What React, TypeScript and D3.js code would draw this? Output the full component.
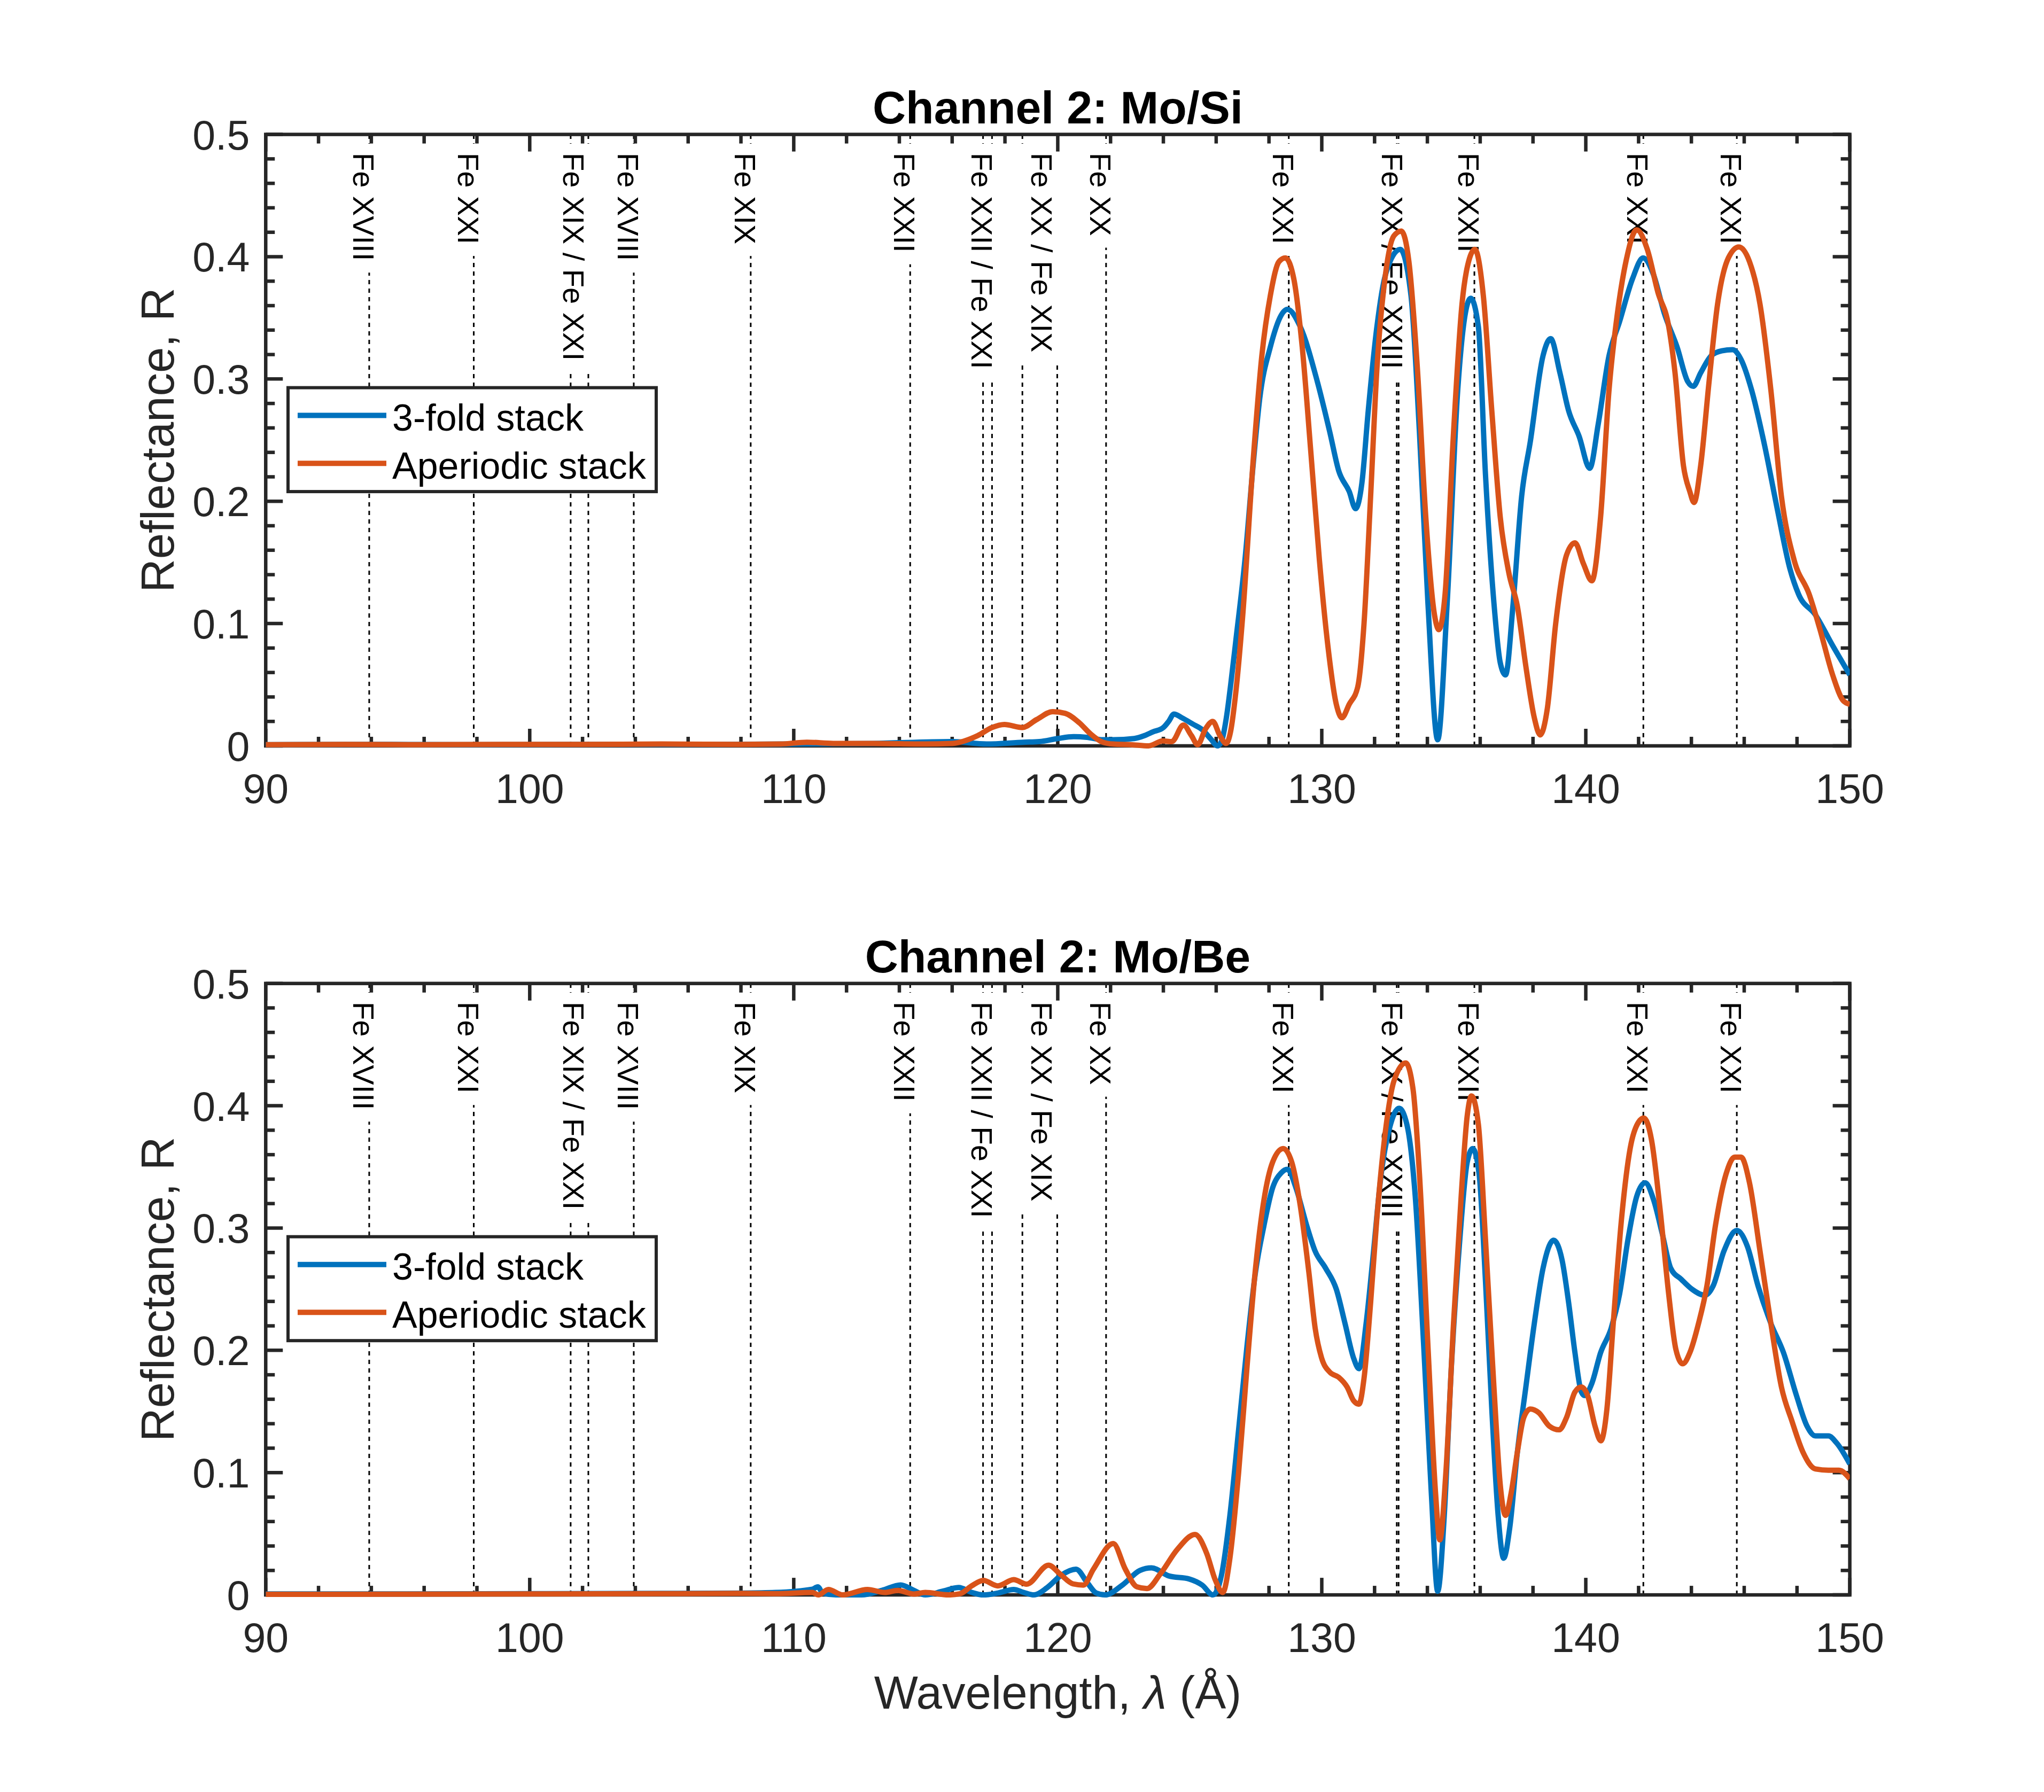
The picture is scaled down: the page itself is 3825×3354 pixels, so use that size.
import React, { useRef, useEffect } from 'react';
import * as d3 from 'd3';

type Pt = [number, number];

const xTicks = [90, 100, 110, 120, 130, 140, 150];
const yTicks = [0, 0.1, 0.2, 0.3, 0.4, 0.5];
const seriesNames = ['3-fold stack', 'Aperiodic stack'];
const seriesColors = ['#0072BD', '#D95319'];
const panelTitles = ['Channel 2: Mo/Si', 'Channel 2: Mo/Be'];

// emission lines (dotted markers) and their labels
const lineLabels = [
  'Fe XVIII', 'Fe XXI', 'Fe XIX / Fe XXI', 'Fe XVIII', 'Fe XIX', 'Fe XXII',
  'Fe XXII / Fe XXI', 'Fe XX / Fe XIX', 'Fe XX', 'Fe XXI', 'Fe XX / Fe XXIII',
  'Fe XXII', 'Fe XXI', 'Fe XXI',
];
const lineWavelengths: number[][] = [
  [93.92], [97.88], [101.55, 102.22], [103.94], [108.37], [114.41],
  [117.17, 117.51], [118.66, 119.98], [121.83], [128.75], [132.84, 132.91],
  [135.78], [142.18], [145.72],
];
const labelWavelengths = [
  93.92, 97.88, 101.885, 103.94, 108.37, 114.41, 117.34, 119.6, 121.83,
  128.75, 132.88, 135.78, 142.18, 145.72,
];

// Mo/Si
const moSiThreeFold: Pt[] = [
  [90, 0.001], [94, 0.0012], [98, 0.001], [102, 0.0012], [106, 0.0012], [110, 0.0015],
  [113, 0.002], [116, 0.0035], [117.3, 0.0015], [118.7, 0.003], [119.3, 0.0035],
  [120.0, 0.006], [120.6, 0.0075], [121.1, 0.007], [121.7, 0.005], [122.1, 0.005],
  [122.9, 0.006], [123.3, 0.0085], [123.6, 0.0114], [124.0, 0.015], [124.2, 0.02],
  [124.4, 0.026], [124.7, 0.023], [125.1, 0.018], [125.5, 0.0128], [125.8, 0.0055],
  [126.05, 0.0], [126.2, 0.0036], [126.4, 0.025], [126.55, 0.05], [126.75, 0.087],
  [127.09, 0.152], [127.41, 0.232], [127.65, 0.284], [128.05, 0.326], [128.7, 0.357],
  [129.18, 0.343], [129.83, 0.298], [130.31, 0.256], [130.64, 0.225], [131.04, 0.208],
  [131.28, 0.194], [131.52, 0.215], [131.76, 0.274], [132.09, 0.343], [132.41, 0.385],
  [132.97, 0.406], [133.38, 0.368], [133.7, 0.256], [134.02, 0.117], [134.39, 0.005],
  [134.75, 0.117], [135.15, 0.291], [135.44, 0.354], [135.64, 0.366], [135.93, 0.343],
  [136.2, 0.222], [136.52, 0.117], [136.76, 0.068], [136.96, 0.058], [137.25, 0.117],
  [137.57, 0.204], [137.9, 0.249], [138.38, 0.319], [138.67, 0.333], [139.02, 0.305],
  [139.35, 0.274], [139.75, 0.253], [140.15, 0.227], [140.47, 0.263], [140.88, 0.319],
  [141.28, 0.347], [141.77, 0.382], [142.17, 0.399], [142.57, 0.385], [142.97, 0.354],
  [143.46, 0.326], [143.86, 0.298], [144.07, 0.294], [144.35, 0.305], [144.75, 0.319],
  [145.15, 0.323], [145.56, 0.324], [145.88, 0.316], [146.28, 0.291], [146.77, 0.246],
  [147.25, 0.194], [147.73, 0.145], [148.06, 0.124], [148.7, 0.107], [149.35, 0.082],
  [150, 0.058],
];
const moSiAperiodic: Pt[] = [
  [90, 0.001], [93, 0.0012], [96, 0.001], [99, 0.0012], [102, 0.0012], [105, 0.0015],
  [108, 0.0012], [109.5, 0.0015], [110.5, 0.003], [111.5, 0.002], [113, 0.002],
  [115, 0.0015], [116, 0.002], [116.97, 0.0084], [117.51, 0.015], [117.98, 0.0175],
  [118.66, 0.015], [119.2, 0.0215], [119.81, 0.028], [120.28, 0.0266], [120.82, 0.0188],
  [121.23, 0.01], [121.7, 0.003], [122.1, 0.0015], [122.77, 0.001], [123.44, 0.0],
  [123.98, 0.004], [124.32, 0.0035], [124.76, 0.017], [125.06, 0.0085], [125.3, 0.001],
  [125.6, 0.014], [125.87, 0.02], [126.14, 0.0085], [126.38, 0.002], [126.54, 0.011],
  [126.75, 0.045], [127.0, 0.105], [127.41, 0.236], [127.73, 0.319], [128.05, 0.368],
  [128.38, 0.396], [128.62, 0.399], [128.94, 0.382], [129.26, 0.326], [129.59, 0.239],
  [129.91, 0.152], [130.23, 0.082], [130.55, 0.034], [130.76, 0.023], [131.04, 0.034],
  [131.36, 0.048], [131.6, 0.1], [131.85, 0.204], [132.09, 0.309], [132.41, 0.385],
  [132.73, 0.417], [133.01, 0.421], [133.3, 0.396], [133.62, 0.309], [133.94, 0.187],
  [134.27, 0.107], [134.43, 0.095], [134.67, 0.124], [134.99, 0.256], [135.31, 0.361],
  [135.6, 0.399], [135.8, 0.406], [136.12, 0.368], [136.44, 0.274], [136.76, 0.187],
  [137.09, 0.141], [137.41, 0.114], [137.73, 0.065], [138.05, 0.023], [138.27, 0.009],
  [138.54, 0.03], [138.86, 0.1], [139.27, 0.156], [139.59, 0.166], [139.91, 0.149],
  [140.23, 0.135], [140.56, 0.187], [140.88, 0.291], [141.2, 0.354], [141.52, 0.396],
  [141.93, 0.422], [142.33, 0.406], [142.73, 0.371], [143.14, 0.343], [143.38, 0.305],
  [143.7, 0.229], [143.94, 0.208], [144.1, 0.199], [144.35, 0.229], [144.67, 0.298],
  [144.99, 0.361], [145.4, 0.399], [145.8, 0.408], [146.2, 0.396], [146.6, 0.361],
  [147.01, 0.291], [147.41, 0.204], [147.89, 0.152], [148.46, 0.124], [148.86, 0.096],
  [149.35, 0.058], [149.75, 0.037], [150, 0.034],
];

// Mo/Be
const moBeThreeFold: Pt[] = [
  [90, 0.0008], [95, 0.0008], [100, 0.001], [105, 0.0012], [108, 0.0015], [109.3, 0.002],
  [110.71, 0.0047], [110.91, 0.0066], [111.1, 0.0015], [111.6, 0.0], [112.57, 0.0],
  [113.34, 0.0037], [114.05, 0.0081], [114.55, 0.0037], [114.98, 0.0], [115.64, 0.003],
  [116.25, 0.006], [116.74, 0.002], [117.18, 0.0], [117.73, 0.0015], [118.33, 0.0044],
  [118.71, 0.002], [119.1, 0.0], [119.6, 0.006], [120.14, 0.0162], [120.69, 0.021],
  [121.13, 0.0096], [121.46, 0.0015], [121.79, 0.0], [122.45, 0.0081], [123.11, 0.02],
  [123.55, 0.0221], [124.21, 0.0155], [124.98, 0.013], [125.47, 0.008], [125.88, 0.0],
  [126.2, 0.016], [126.52, 0.065], [126.85, 0.135], [127.17, 0.204], [127.49, 0.264],
  [127.81, 0.302], [128.14, 0.333], [128.46, 0.345], [128.7, 0.348], [129.02, 0.333],
  [129.43, 0.302], [129.75, 0.281], [130.15, 0.267], [130.55, 0.25], [130.88, 0.222],
  [131.2, 0.194], [131.41, 0.185], [131.68, 0.222], [131.93, 0.274], [132.25, 0.344],
  [132.57, 0.382], [132.93, 0.398], [133.22, 0.385], [133.54, 0.326], [133.86, 0.204],
  [134.15, 0.083], [134.39, 0.003], [134.64, 0.065], [134.91, 0.187], [135.23, 0.291],
  [135.51, 0.354], [135.72, 0.365], [135.96, 0.344], [136.2, 0.257], [136.44, 0.152],
  [136.68, 0.065], [136.89, 0.03], [137.12, 0.055], [137.41, 0.117], [137.73, 0.17],
  [138.05, 0.222], [138.38, 0.267], [138.78, 0.29], [139.1, 0.274], [139.35, 0.239],
  [139.59, 0.198], [139.83, 0.166], [139.96, 0.163], [140.23, 0.173], [140.56, 0.198],
  [140.96, 0.218], [141.28, 0.246], [141.6, 0.291], [141.93, 0.326], [142.25, 0.337],
  [142.57, 0.323], [142.9, 0.295], [143.22, 0.267], [143.62, 0.258], [144.02, 0.25],
  [144.51, 0.245], [144.83, 0.253], [145.23, 0.281], [145.72, 0.298], [146.12, 0.285],
  [146.52, 0.253], [147.01, 0.222], [147.49, 0.198], [147.98, 0.163], [148.38, 0.138],
  [148.7, 0.13], [149.19, 0.13], [149.51, 0.124], [150, 0.107],
];
const moBeAperiodic: Pt[] = [
  [90, 0.0005], [95, 0.0006], [100, 0.0008], [105, 0.001], [108, 0.0012], [109.3, 0.001],
  [110.71, 0.002], [110.93, 0.0], [111.31, 0.0044], [111.86, 0.0], [112.79, 0.0044],
  [113.45, 0.002], [113.94, 0.0037], [114.55, 0.0007], [114.98, 0.002], [115.86, 0.0],
  [116.3, 0.001], [116.74, 0.0074], [117.18, 0.0118], [117.73, 0.0074], [118.33, 0.0125],
  [118.82, 0.0088], [119.65, 0.0243], [120.09, 0.017], [120.58, 0.009], [120.97, 0.008],
  [121.35, 0.021], [122.1, 0.042], [122.56, 0.021], [123.0, 0.0066], [123.38, 0.0052],
  [123.88, 0.017], [124.54, 0.0375], [125.2, 0.0494], [125.64, 0.034], [125.97, 0.012],
  [126.25, 0.002], [126.52, 0.03], [126.85, 0.1], [127.17, 0.187], [127.49, 0.267],
  [127.81, 0.323], [128.14, 0.354], [128.54, 0.365], [128.86, 0.354], [129.18, 0.319],
  [129.51, 0.264], [129.75, 0.218], [129.99, 0.194], [130.31, 0.182], [130.64, 0.178],
  [130.96, 0.17], [131.2, 0.159], [131.41, 0.156], [131.6, 0.177], [131.85, 0.239],
  [132.09, 0.309], [132.41, 0.379], [132.73, 0.42], [133.18, 0.435], [133.46, 0.413],
  [133.7, 0.344], [134.02, 0.204], [134.31, 0.083], [134.47, 0.045], [134.7, 0.1],
  [134.99, 0.222], [135.28, 0.326], [135.51, 0.392], [135.67, 0.408], [135.93, 0.385],
  [136.2, 0.291], [136.52, 0.17], [136.76, 0.09], [136.96, 0.065], [137.17, 0.083],
  [137.41, 0.117], [137.65, 0.145], [137.9, 0.152], [138.22, 0.149], [138.62, 0.138],
  [138.99, 0.135], [139.27, 0.145], [139.59, 0.166], [139.83, 0.17], [140.07, 0.163],
  [140.35, 0.138], [140.57, 0.126], [140.8, 0.152], [141.04, 0.222], [141.36, 0.309],
  [141.68, 0.365], [142.01, 0.387], [142.2, 0.39], [142.49, 0.372], [142.81, 0.316],
  [143.14, 0.246], [143.41, 0.201], [143.67, 0.189], [143.94, 0.198], [144.27, 0.222],
  [144.59, 0.253], [144.91, 0.302], [145.31, 0.344], [145.64, 0.358], [145.88, 0.358],
  [146.2, 0.337], [146.6, 0.281], [147.01, 0.222], [147.41, 0.17], [147.81, 0.142],
  [148.22, 0.117], [148.7, 0.103], [149.19, 0.102], [149.59, 0.102], [150, 0.095],
];

const panelSeries: Pt[][][] = [
  [moSiThreeFold, moSiAperiodic],
  [moBeThreeFold, moBeAperiodic],
];

const W = 3825;
const H = 3354;
const plotLeft = 497.25;
const plotRight = 3461.6;
const plotHeight = 1144.4;
const panelTops = [251.6, 1840.7];
const FONT = '"Liberation Sans", Arial, Helvetica, sans-serif';
const AXIS_COLOR = '#262626';

const App: React.FC = () => {
  const svgRef = useRef<SVGSVGElement | null>(null);

  useEffect(() => {
    document.body.style.margin = '0';
    const svg = d3.select(svgRef.current);
    svg.selectAll('*').remove();
    svg.append('rect').attr('width', W).attr('height', H).attr('fill', '#fff');

    panelTops.forEach((top, p) => {
      const bottom = top + plotHeight;
      const x = d3.scaleLinear().domain([90, 150]).range([plotLeft, plotRight]);
      const y = d3.scaleLinear().domain([0, 0.5]).range([bottom, top]);
      const g = svg.append('g');

      // dotted line markers
      lineWavelengths.forEach(ws => ws.forEach(w => {
        g.append('line')
          .attr('x1', x(w)).attr('x2', x(w))
          .attr('y1', y(0)).attr('y2', y(0.5))
          .attr('stroke', '#000')
          .attr('stroke-width', 3)
          .attr('stroke-dasharray', '8 8');
      }));

      // labels with white background
      lineLabels.forEach((lab, i) => {
        const lg = g.append('g')
          .attr('transform', `translate(${x(labelWavelengths[i])},${y(0.485)}) rotate(90)`);
        const bg = lg.append('rect').attr('fill', '#fff');
        const t = lg.append('text')
          .attr('x', 0).attr('y', 30)
          .attr('font-family', FONT)
          .attr('font-size', 56)
          .attr('fill', '#000')
          .text(lab);
        const len = (t.node() as SVGTextElement).getComputedTextLength();
        bg.attr('x', -17).attr('y', -22).attr('width', len + 17 + 22).attr('height', 72);
      });

      // curves
      const clipId = `clip-${p}`;
      svg.append('clipPath').attr('id', clipId)
        .append('rect')
        .attr('x', plotLeft).attr('y', top - 12)
        .attr('width', plotRight - plotLeft).attr('height', plotHeight + 24);

      const line = d3.line<Pt>()
        .x(d => x(d[0]))
        .y(d => y(d[1]))
        .curve(d3.curveMonotoneX);

      // axes box and ticks
      const ax = g.append('g');
      ax.append('rect')
        .attr('x', plotLeft).attr('y', top)
        .attr('width', plotRight - plotLeft).attr('height', plotHeight)
        .attr('fill', 'none')
        .attr('stroke', AXIS_COLOR)
        .attr('stroke-width', 6.5);
      for (let i = 0; i <= 30; i++) {
        const v = 90 + 2 * i;
        const len = i % 5 === 0 ? 32 : 17;
        ax.append('line').attr('x1', x(v)).attr('x2', x(v)).attr('y1', bottom).attr('y2', bottom - len)
          .attr('stroke', AXIS_COLOR).attr('stroke-width', 6.5);
        ax.append('line').attr('x1', x(v)).attr('x2', x(v)).attr('y1', top).attr('y2', top + len)
          .attr('stroke', AXIS_COLOR).attr('stroke-width', 6.5);
      }
      for (let i = 0; i <= 25; i++) {
        const v = 0.02 * i;
        const len = i % 5 === 0 ? 32 : 17;
        ax.append('line').attr('x1', plotLeft).attr('x2', plotLeft + len).attr('y1', y(v)).attr('y2', y(v))
          .attr('stroke', AXIS_COLOR).attr('stroke-width', 6.5);
        ax.append('line').attr('x1', plotRight).attr('x2', plotRight - len).attr('y1', y(v)).attr('y2', y(v))
          .attr('stroke', AXIS_COLOR).attr('stroke-width', 6.5);
      }

      panelSeries[p].forEach((data, s) => {
        g.append('path')
          .datum(data)
          .attr('clip-path', `url(#${clipId})`)
          .attr('d', line)
          .attr('fill', 'none')
          .attr('stroke', seriesColors[s])
          .attr('stroke-width', 10)
          .attr('stroke-linejoin', 'round');
      });

      // tick labels
      xTicks.forEach(v => {
        g.append('text')
          .attr('x', x(v)).attr('y', bottom + 107)
          .attr('text-anchor', 'middle')
          .attr('font-family', FONT).attr('font-size', 77)
          .attr('fill', AXIS_COLOR)
          .text(String(v));
      });
      yTicks.forEach(v => {
        g.append('text')
          .attr('x', plotLeft - 30).attr('y', y(v) + 28)
          .attr('text-anchor', 'end')
          .attr('font-family', FONT).attr('font-size', 77)
          .attr('fill', AXIS_COLOR)
          .text(v === 0 ? '0' : v.toFixed(1));
      });

      // title
      g.append('text')
        .attr('x', (plotLeft + plotRight) / 2).attr('y', top - 21)
        .attr('text-anchor', 'middle')
        .attr('font-family', FONT).attr('font-size', 86).attr('font-weight', 'bold')
        .attr('fill', '#000')
        .text(panelTitles[p]);

      // y label
      g.append('text')
        .attr('transform', `translate(325,${top + plotHeight / 2}) rotate(-90)`)
        .attr('text-anchor', 'middle')
        .attr('font-family', FONT).attr('font-size', 87)
        .attr('fill', AXIS_COLOR)
        .text('Reflectance, R');

      // legend
      const lgTop = top + 474;
      const leg = g.append('g');
      leg.append('rect')
        .attr('x', 539).attr('y', lgTop)
        .attr('width', 689).attr('height', 194.5)
        .attr('fill', '#fff')
        .attr('stroke', AXIS_COLOR)
        .attr('stroke-width', 6);
      seriesNames.forEach((name, s) => {
        const cy = lgTop + 52 + s * 89.6;
        leg.append('line')
          .attr('x1', 557).attr('x2', 723).attr('y1', cy).attr('y2', cy)
          .attr('stroke', seriesColors[s]).attr('stroke-width', 10);
        leg.append('text')
          .attr('x', 734).attr('y', cy + 28.5)
          .attr('font-family', FONT).attr('font-size', 70)
          .attr('fill', '#000')
          .text(name);
      });

      if (p === 1) {
        const xl = g.append('text')
          .attr('x', (plotLeft + plotRight) / 2).attr('y', 3198)
          .attr('text-anchor', 'middle')
          .attr('font-family', FONT).attr('font-size', 87)
          .attr('fill', AXIS_COLOR);
        xl.append('tspan').text('Wavelength, ');
        xl.append('tspan').attr('font-style', 'italic').text('\u03bb');
        xl.append('tspan').text(' (\u00c5)');
      }
    });
  }, []);

  return (
    <svg
      ref={svgRef}
      width={W}
      height={H}
      style={{ position: 'absolute', left: 0, top: 0, display: 'block' }}
    />
  );
};

export default App;
